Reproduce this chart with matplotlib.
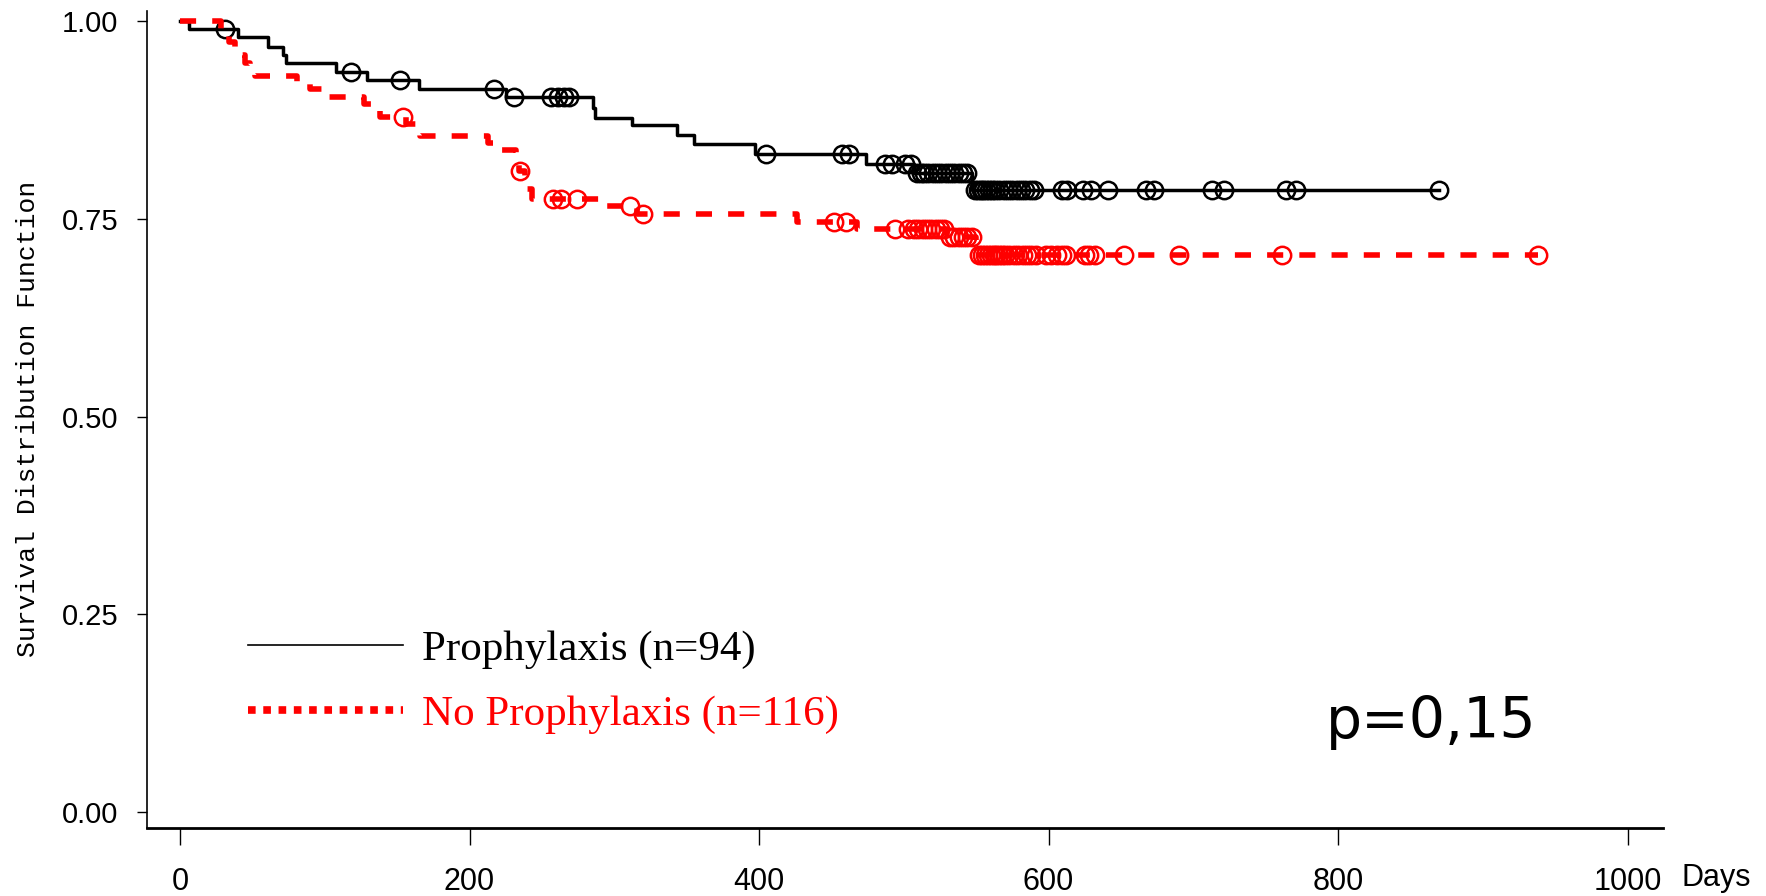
import numpy as np
import matplotlib.pyplot as plt
from matplotlib.lines import Line2D

# Kaplan-Meier steps: day of each drop and survival after it
proph_days = [0, 6, 40, 61, 71, 73, 108, 129, 165, 225, 285, 287, 312, 343, 355,
              397, 474, 507, 547]
proph_surv = [1.0, 0.990, 0.980, 0.968, 0.958, 0.948, 0.936, 0.926, 0.914, 0.904,
              0.891, 0.878, 0.869, 0.857, 0.845, 0.832, 0.820, 0.808, 0.787]
proph_end = 870
proph_cens = [31, 118, 152, 217, 231, 256, 261, 265, 269, 405, 457, 462, 487, 492,
              501, 505, 509, 512, 514, 517, 520, 523, 526, 529, 532, 535, 538, 541,
              544, 549, 551, 553, 555, 557, 559, 561, 563, 566, 569, 572, 575, 578,
              581, 584, 587, 590, 609, 613, 624, 629, 641, 667, 673, 713, 721, 764,
              771, 870]

noproph_days = [0, 28, 31, 34, 38, 42, 45, 48, 52, 81, 90, 100, 127, 134, 138, 156,
                166, 213, 222, 232, 233, 234, 238, 240, 243, 294, 316, 426, 468, 530,
                550]
noproph_surv = [1.0, 0.991, 0.983, 0.974, 0.966, 0.957, 0.948, 0.940, 0.931, 0.922,
                0.914, 0.905, 0.896, 0.888, 0.879, 0.870, 0.855, 0.846, 0.838, 0.829,
                0.820, 0.811, 0.800, 0.788, 0.776, 0.767, 0.757, 0.746, 0.738, 0.727,
                0.705]
noproph_end = 938
noproph_cens = [154, 235, 258, 263, 274, 311, 320, 452, 460, 494, 503, 507, 510, 513,
                516, 519, 522, 525, 528, 532, 535, 538, 541, 544, 547, 552, 554, 556,
                558, 560, 562, 564, 566, 568, 570, 573, 576, 579, 582, 585, 588, 591,
                598, 602, 606, 609, 612, 625, 628, 632, 652, 690, 761, 938]

labels = ['Prophylaxis (n=94)', 'No Prophylaxis (n=116)']
y_ticks = [0, 0.25, 0.5, 0.75, 1.0]
x_ticks = [0, 200, 400, 600, 800, 1000]


def surv_at(days, surv, t):
    idx = np.searchsorted(days, t, side='right') - 1
    return np.array(surv)[idx]


fig = plt.figure(figsize=(17.66, 8.96), dpi=100)
ax = fig.add_axes([0.0835, 0.0759, 0.8582, 0.9118])

# black solid curve
ax.step(proph_days + [proph_end], proph_surv + [proph_surv[-1]], where='post',
        color='black', lw=2.5)
ax.plot(proph_cens, surv_at(proph_days, proph_surv, proph_cens), 'o', ms=12.5,
        mfc='none', mec='black', mew=1.8)

# red dashed curve
ax.step(noproph_days + [noproph_end], noproph_surv + [noproph_surv[-1]], where='post',
        color='red', lw=4, linestyle=(0, (2.9, 2.9)))
ax.plot(noproph_cens, surv_at(noproph_days, noproph_surv, noproph_cens), 'o', ms=12.5,
        mfc='none', mec='red', mew=1.8)

ax.set_xlim(-22.5, 1024.5)
ax.set_ylim(-0.0202, 1.0132)
ax.spines['top'].set_visible(False)
ax.spines['right'].set_visible(False)
ax.spines['left'].set_linewidth(1.2)
ax.spines['bottom'].set_linewidth(2.0)

ax.set_yticks(y_ticks)
ax.set_yticklabels(['%.2f' % v for v in y_ticks], family='Liberation Sans', fontsize=21)
ax.tick_params(axis='y', length=7, width=1.0, pad=14)
ax.set_xticks(x_ticks)
ax.set_xticklabels([str(v) for v in x_ticks],
                   family=['Liberation Sans Narrow', 'Liberation Sans'], fontsize=22)
ax.tick_params(axis='x', length=12, width=1.0, pad=16)

fig.text(1682 / 1766, 1 - 878 / 896, 'Days', va='center', ha='left',
         family=['Liberation Sans Narrow', 'Liberation Sans'], fontsize=22)

fig.text(28 / 1766, 1 - 419 / 896, 'Survival Distribution Function', rotation=90,
         va='center', ha='center', family='Liberation Mono', fontsize=19)

# legend made of proxy lines, text coloured like the curves
handles = [Line2D([], [], color='black', lw=1.2),
           Line2D([], [], color='red', lw=5.5, linestyle=(0, (1, 1)))]
ax.legend(handles, labels, loc='center left', bbox_to_anchor=(248 / 1766, 1 - 682 / 896),
          bbox_transform=fig.transFigure, frameon=False, borderpad=0, borderaxespad=0,
          handlelength=3.6, handletextpad=0.45, labelspacing=0.6,
          labelcolor=['black', 'red'], prop={'family': 'Liberation Serif', 'size': 31})

fig.text(1326 / 1766, 1 - 738 / 896, 'p=0,15', ha='left', va='baseline',
         family='DejaVu Sans', fontsize=41)

fig.savefig('out.png', dpi=100)
